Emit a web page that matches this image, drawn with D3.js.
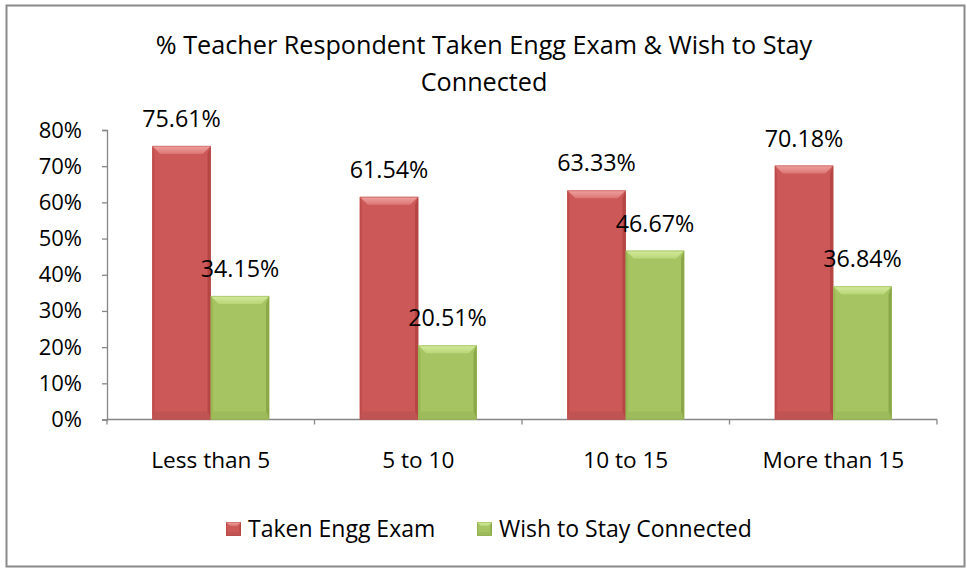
<!DOCTYPE html>
<html>
<head>
<meta charset="utf-8">
<script src="https://cdn.jsdelivr.net/npm/d3@7/dist/d3.min.js"></script>
<style>
  html, body { margin: 0; padding: 0; background: #fff; }
  svg { display: block; }
  text { font-family: "Open Sans", Lato, sans-serif; fill: #000; }
</style>
</head>
<body>
<svg id="chart" width="967" height="570"></svg>
<script>
// Chart data
const categories = ["Less than 5", "5 to 10", "10 to 15", "More than 15"];
const seriesNames = ["Taken Engg Exam", "Wish to Stay Connected"];
const takenEngg = [75.61, 61.54, 63.33, 70.18];
const wishConnected = [34.15, 20.51, 46.67, 36.84];
const yTicks = [0, 10, 20, 30, 40, 50, 60, 70, 80];
const titleLines = ["% Teacher Respondent Taken Engg Exam & Wish to Stay", "Connected"];

// Palette per series: face, top bevel (light edge -> inner), side and bottom bevels
const palettes = [
  { face: "#cc5957", topA: "#f0a3a1", topB: "#db7573", left: "#c24f4d", right: "#b54644", bottom: "#bf5452" },
  { face: "#a6c562", topA: "#d3eb9c", topB: "#b9d678", left: "#9cbb57", right: "#8ba849", bottom: "#9dbb5a" }
];

const svg = d3.select("#chart");
const plot = { left: 107, right: 937, top: 130, bottom: 419.5 };

// Outer chart border
svg.append("rect")
  .attr("x", 6.5).attr("y", 5.5)
  .attr("width", 958).attr("height", 561)
  .attr("fill", "#fff")
  .attr("stroke", "#8a8a8a").attr("stroke-width", 2);

// Top-bevel gradients
const defs = svg.append("defs");
palettes.forEach((p, i) => {
  const gr = defs.append("linearGradient").attr("id", "topBevel" + i)
    .attr("x1", 0).attr("y1", 0).attr("x2", 0).attr("y2", 1);
  gr.append("stop").attr("offset", "0%").attr("stop-color", p.topA);
  gr.append("stop").attr("offset", "100%").attr("stop-color", p.topB);
});

// Title
svg.append("g").selectAll("text")
  .data(titleLines)
  .join("text")
  .attr("x", 484)
  .attr("y", (d, i) => 54 + i * 37)
  .attr("text-anchor", "middle")
  .attr("font-size", 25.2)
  .text(d => d);

// Scales
const x0 = d3.scaleBand().domain(categories).range([plot.left, plot.right]).padding(0);
const gapRatio = 1.55;
const barW = x0.bandwidth() / (2 + gapRatio);
const x1 = d3.scaleBand().domain(seriesNames)
  .range([(x0.bandwidth() - 2 * barW) / 2, (x0.bandwidth() + 2 * barW) / 2]).padding(0);
const y = d3.scaleLinear().domain([0, 80]).range([plot.bottom, plot.top]);

// Y axis
const yAxis = d3.axisLeft(y).tickValues(yTicks).tickFormat(d => d + "%").tickSize(5).tickPadding(20);
const gy = svg.append("g").attr("transform", `translate(${plot.left},0)`).call(yAxis);
gy.select(".domain").attr("stroke", "#868686").attr("stroke-width", 1.3);
gy.selectAll(".tick line").attr("stroke", "#868686").attr("stroke-width", 1.3);
gy.selectAll(".tick text").attr("font-size", 22).attr("font-family", "'Open Sans', Lato, sans-serif").attr("fill", "#000");

// X axis: ticks at category boundaries
const boundaries = categories.map(c => x0(c)).concat([plot.right]);
const gx = svg.append("g");
gx.append("line")
  .attr("x1", plot.left).attr("x2", plot.right)
  .attr("y1", plot.bottom).attr("y2", plot.bottom)
  .attr("stroke", "#868686").attr("stroke-width", 1.3);
gx.selectAll("line.tick").data(boundaries).join("line")
  .attr("class", "tick")
  .attr("x1", d => d).attr("x2", d => d)
  .attr("y1", plot.bottom).attr("y2", plot.bottom + 5)
  .attr("stroke", "#868686").attr("stroke-width", 1.3);
gx.selectAll("text").data(categories).join("text")
  .attr("x", d => x0(d) + x0.bandwidth() / 2)
  .attr("y", 468)
  .attr("text-anchor", "middle")
  .attr("font-size", 22.6)
  .text(d => d);

// Bevelled bar drawing
function drawBar(g, bx, by, bw, bh, pal, idx, bev) {
  const b = Math.min(bev, bh / 2, bw / 2);
  const x2 = bx + bw, y2 = by + bh;
  g.append("rect").attr("x", bx).attr("y", by).attr("width", bw).attr("height", bh).attr("fill", pal.face);
  const poly = (pts, fill) => g.append("polygon").attr("points", pts.map(p => p.join(",")).join(" ")).attr("fill", fill);
  poly([[bx, by], [bx + b * 0.3, by + b], [bx + b * 0.3, y2 - b], [bx, y2]], pal.left);
  poly([[x2, by], [x2, y2], [x2 - b * 0.4, y2 - b], [x2 - b * 0.4, by + b]], pal.right);
  poly([[bx, y2], [x2, y2], [x2 - b * 0.4, y2 - b], [bx + b * 0.3, y2 - b]], pal.bottom);
  poly([[bx, by], [x2, by], [x2 - b, by + b], [bx + b, by + b]], `url(#topBevel${idx})`);
  g.append("rect").attr("x", bx + 0.5).attr("y", by + 0.5).attr("width", bw - 1).attr("height", bh - 1)
    .attr("fill", "none").attr("stroke", pal.right).attr("stroke-opacity", 0.45).attr("stroke-width", 1);
}

const seriesValues = [takenEngg, wishConnected];
const barsG = svg.append("g");
const labelsG = svg.append("g");
categories.forEach((cat, ci) => {
  seriesNames.forEach((s, si) => {
    const v = seriesValues[si][ci];
    const bx = x0(cat) + x1(s);
    const by = y(v);
    drawBar(barsG.append("g"), bx, by, x1.bandwidth(), plot.bottom - by, palettes[si], si, 8);
    labelsG.append("text")
      .attr("x", bx + x1.bandwidth() / 2)
      .attr("y", by - 19)
      .attr("text-anchor", "middle")
      .attr("font-size", 23.3)
      .text(v.toFixed(2) + "%");
  });
});

// Legend
const legendItems = [
  { name: seriesNames[0], x: 226 },
  { name: seriesNames[1], x: 477 }
];
const lg = svg.append("g");
legendItems.forEach((it, i) => {
  const g = lg.append("g");
  drawBar(g, it.x, 522, 15, 14, palettes[i], i, 4);
  g.append("text").attr("x", it.x + 22).attr("y", 537).attr("font-size", 23).text(it.name);
});
</script>
</body>
</html>
